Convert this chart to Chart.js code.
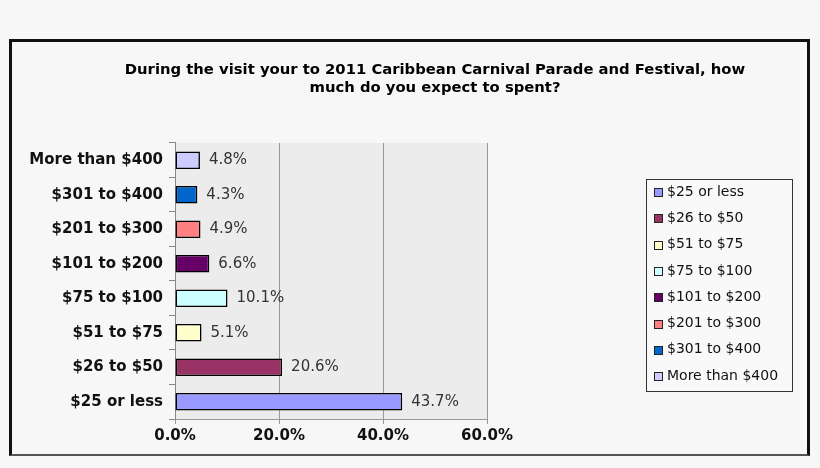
<!DOCTYPE html>
<html>
<head>
<meta charset="utf-8">
<script src="https://cdn.jsdelivr.net/npm/chart.js@4.4.0/dist/chart.umd.min.js"></script>
<style>
  html, body { margin: 0; padding: 0; background: #f7f7f7; }
  #wrap { position: relative; width: 820px; height: 468px; }
  #frame {
    position: absolute; left: 9px; top: 39px; width: 801px; height: 417px;
    box-sizing: border-box;
    border-left: 3px solid #111; border-top: 3px solid #111; border-right: 3px solid #111;
    border-bottom: 2px solid #555;
  }
  #myChart { position: absolute; left: 0; top: 0; }
</style>
</head>
<body>
<div id="wrap">
  <div id="frame"></div>
  <canvas id="myChart" width="820" height="468"></canvas>
</div>
<script>
// data, bottom-up (same order as the legend)
const categories = ['$25 or less', '$26 to $50', '$51 to $75', '$75 to $100',
                    '$101 to $200', '$201 to $300', '$301 to $400', 'More than $400'];
const percents = [43.7, 20.6, 5.1, 10.1, 6.6, 4.9, 4.3, 4.8];
const barColors = ['#9999ff', '#993366', '#ffffcc', '#ccffff',
                   '#660066', '#ff8080', '#0066cc', '#ccccff'];
const xTicks = [0, 20, 40, 60];
const titleLines = ['During the visit your to 2011 Caribbean Carnival Parade and Festival, how',
                    'much do you expect to spent?'];

const boldFont = {family: 'DejaVu Sans', weight: 'bold', size: 15};

// grey plot area
const plotBg = {
    id: 'plotBg',
    beforeDraw(chart) {
        const a = chart.chartArea;
        const ctx = chart.ctx;
        ctx.save();
        ctx.fillStyle = '#ececec';
        ctx.fillRect(a.left, a.top, a.right - a.left, a.bottom - a.top);
        ctx.restore();
    }
};

// "4.8%" next to each bar
const valueLabels = {
    id: 'valueLabels',
    afterDatasetsDraw(chart) {
        const ctx = chart.ctx;
        const meta = chart.getDatasetMeta(0);
        ctx.save();
        ctx.font = '15px "DejaVu Sans"';
        ctx.fillStyle = '#333';
        ctx.textBaseline = 'middle';
        ctx.textAlign = 'left';
        meta.data.forEach((bar, i) => {
            ctx.fillText(percents[i].toFixed(1) + '%', bar.x + 9, bar.y);
        });
        ctx.restore();
    }
};

// boxed legend on the right, one entry per category
const boxLegend = {
    id: 'boxLegend',
    afterDraw(chart) {
        const ctx = chart.ctx;
        const left = 646, top = 179, w = 146, h = 212;
        const rowH = 26.3;
        ctx.save();
        ctx.fillStyle = '#f9f9f9';
        ctx.fillRect(left, top, w, h);
        ctx.strokeStyle = '#333';
        ctx.lineWidth = 1;
        ctx.strokeRect(left + 0.5, top + 0.5, w, h);
        ctx.font = '14px "DejaVu Sans"';
        ctx.textBaseline = 'middle';
        ctx.textAlign = 'left';
        categories.forEach((c, i) => {
            const cy = top + 13 + i * rowH;
            ctx.fillStyle = barColors[i];
            ctx.fillRect(654, Math.round(cy) - 4, 9, 9);
            ctx.strokeStyle = '#222';
            ctx.strokeRect(654.5, Math.round(cy) - 3.5, 8, 8);
            ctx.fillStyle = '#111';
            ctx.fillText(c, 667, cy);
        });
        ctx.restore();
    }
};

const ctx = document.getElementById('myChart').getContext('2d');
const data = {
    labels: categories,
    datasets: [{
        label: 'Share',
        data: percents,
        backgroundColor: barColors,
        borderColor: '#000',
        borderWidth: 1.6,
        borderSkipped: false,
        barPercentage: 0.51,
        categoryPercentage: 1
    }]
};
const config = {
    type: 'bar',
    data: data,
    options: {
        indexAxis: 'y',
        responsive: false,
        animation: false,
        // right padding < 0 so the full-width title is centred where the original has it
        layout: {padding: {left: 20, right: -30, top: 0, bottom: 0}},
        plugins: {
            legend: {display: false},
            tooltip: {enabled: false},
            title: {
                display: true,
                text: titleLines,
                color: '#000',
                font: {family: 'DejaVu Sans', weight: 'bold', size: 14.8, lineHeight: 1.216},
                padding: {top: 61, bottom: 46}
            }
        },
        scales: {
            x: {
                min: 0,
                max: 60,
                afterBuildTicks: s => { s.ticks = xTicks.map(v => ({value: v})); },
                afterFit: s => { s.height = 49; },
                ticks: {
                    font: boldFont,
                    color: '#111',
                    padding: 3,
                    callback: v => v.toFixed(1) + '%'
                },
                grid: {color: '#999', tickLength: 5},
                border: {color: '#999'}
            },
            y: {
                reverse: true,
                afterFit: s => { s.width = 155; },
                ticks: {font: boldFont, color: '#111', padding: 6},
                grid: {offset: true, drawOnChartArea: false, tickLength: 6, color: '#888'},
                border: {color: '#888'}
            },
            yR: {
                type: 'category',
                position: 'right',
                afterFit: s => { s.width = 363; },
                ticks: {display: false},
                grid: {display: false},
                border: {display: false}
            }
        }
    },
    plugins: [plotBg, valueLabels, boxLegend]
};
const myChart = new Chart(ctx, config);
</script>
</body>
</html>
